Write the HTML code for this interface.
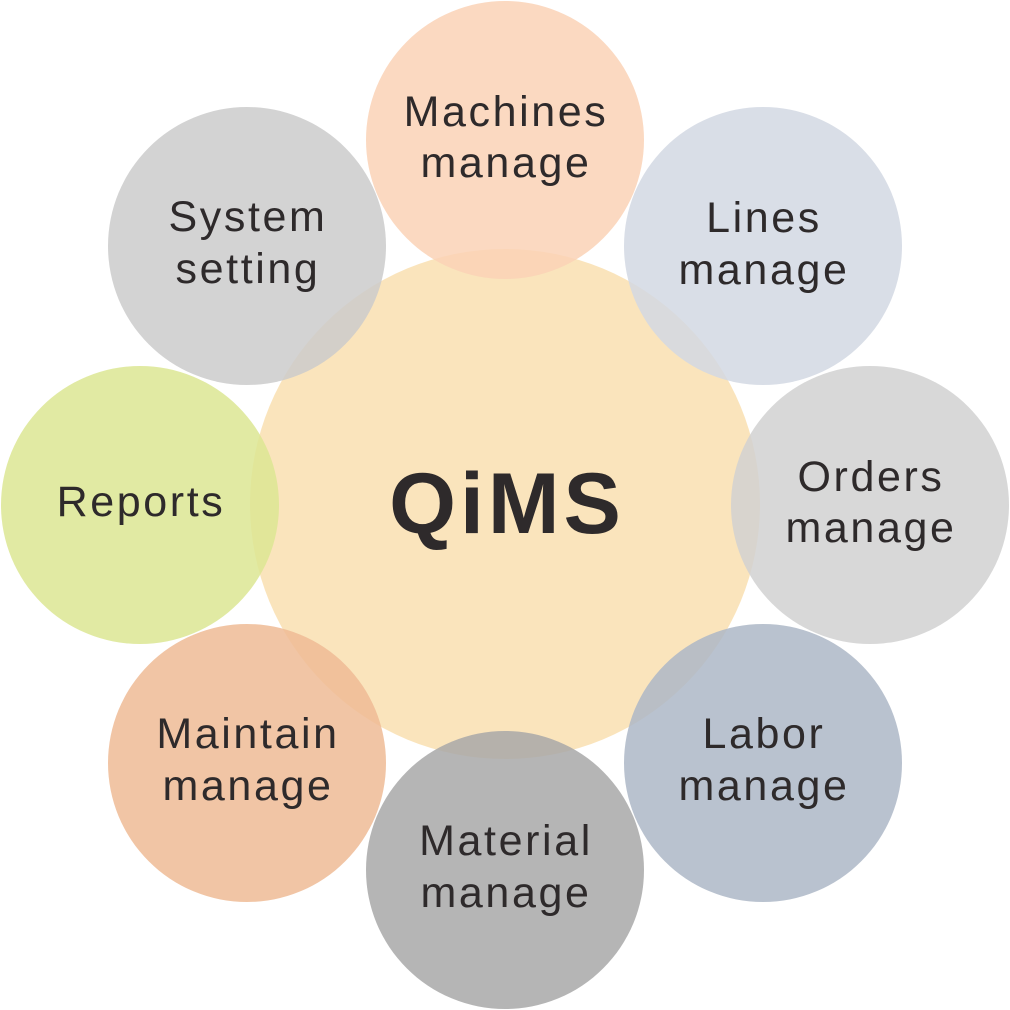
<!DOCTYPE html>
<html>
<head>
<meta charset="utf-8">
<style>
  html, body { margin:0; padding:0; background:#ffffff; }
  body { width:1010px; height:1010px; overflow:hidden; }
  svg { display:block; }
  text { font-family: "Liberation Sans", "DejaVu Sans", sans-serif; fill:#2e2a2b; }
  .lbl { font-size:43px; letter-spacing:2.6px; }
  .big { font-size:86px; font-weight:bold; letter-spacing:4px; }
</style>
</head>
<body>
<svg width="1010" height="1010" viewBox="0 0 1010 1010" xmlns="http://www.w3.org/2000/svg">
  <g fill-opacity="0.85">
    <circle cx="505" cy="504" r="255" fill="#F9DFB0"/>
    <circle cx="505" cy="140" r="139" fill="#FAD2B6"/>
    <circle cx="763" cy="246" r="139" fill="#D2D8E3"/>
    <circle cx="870" cy="505" r="139" fill="#D1D1D1"/>
    <circle cx="763" cy="763" r="139" fill="#ADB7C7"/>
    <circle cx="505" cy="870" r="139" fill="#A8A8A8"/>
    <circle cx="247" cy="763" r="139" fill="#EFBB95"/>
    <circle cx="140" cy="505" r="139" fill="#DCE693"/>
    <circle cx="247" cy="246" r="139" fill="#CBCBCB"/>
  </g>

  <text class="big" x="507" y="533" text-anchor="middle">QiMS</text>

  <text class="lbl" x="506" y="126" text-anchor="middle">Machines</text>
  <text class="lbl" x="506" y="177" text-anchor="middle">manage</text>

  <text class="lbl" x="764" y="232" text-anchor="middle">Lines</text>
  <text class="lbl" x="764" y="284" text-anchor="middle">manage</text>

  <text class="lbl" x="871" y="491" text-anchor="middle">Orders</text>
  <text class="lbl" x="871" y="542" text-anchor="middle">manage</text>

  <text class="lbl" x="764" y="748" text-anchor="middle">Labor</text>
  <text class="lbl" x="764" y="800" text-anchor="middle">manage</text>

  <text class="lbl" x="506" y="855" text-anchor="middle">Material</text>
  <text class="lbl" x="506" y="907" text-anchor="middle">manage</text>

  <text class="lbl" x="248" y="748" text-anchor="middle">Maintain</text>
  <text class="lbl" x="248" y="800" text-anchor="middle">manage</text>

  <text class="lbl" x="141" y="516" text-anchor="middle">Reports</text>

  <text class="lbl" x="248" y="231" text-anchor="middle">System</text>
  <text class="lbl" x="248" y="283" text-anchor="middle">setting</text>
</svg>
</body>
</html>
